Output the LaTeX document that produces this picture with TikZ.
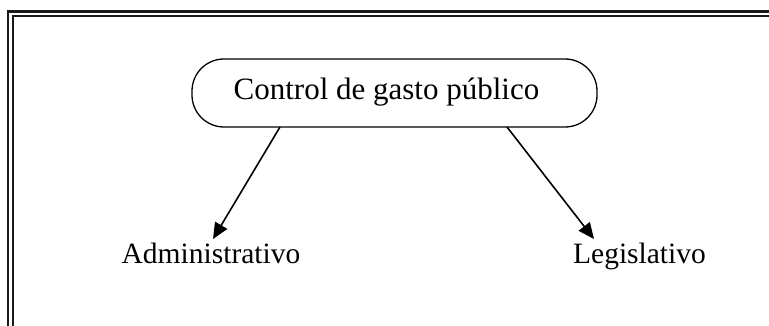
\documentclass[tikz,border=0pt]{standalone}
\usepackage{fontspec}
\setmainfont{Liberation Serif}
\usetikzlibrary{arrows.meta}
\begin{document}
\begin{tikzpicture}[x=1pt,y=-1pt,
  lbl/.style={font=\fontsize{29.5}{32}\selectfont, inner sep=0pt, anchor=base},
  toplbl/.style={font=\fontsize{31}{34}\selectfont, inner sep=0pt, anchor=base},
  conn/.style={line width=1.6pt, -{Triangle[length=16pt,width=14pt]}},
  frameline/.style={line width=2.4pt, color=black!90}]
\useasboundingbox (0,0) rectangle (769,326);
% frame (open to right and bottom)
\draw[frameline] (7.8,326) -- (7.8,11.5) -- (769,11.5);
\draw[frameline, line width=2pt] (12.5,326) -- (12.5,16) -- (769,16);
% top box
\draw[line width=1.3pt, rounded corners=32pt] (192,59) rectangle (597,127);
\node[toplbl] (top) at (386.5,100) {Control de gasto público};
\node[lbl] (adm) at (211,263) {Administrativo};
\node[lbl] (leg) at (639.5,263) {Legislativo};
\coordinate (s1) at (280,127);
\coordinate (s2) at (507,127);
\coordinate (t1) at (213,239);
\coordinate (t2) at (594,239);
\draw[conn] (s1) -- (t1);
\draw[conn] (s2) -- (t2);
\end{tikzpicture}
\end{document}
